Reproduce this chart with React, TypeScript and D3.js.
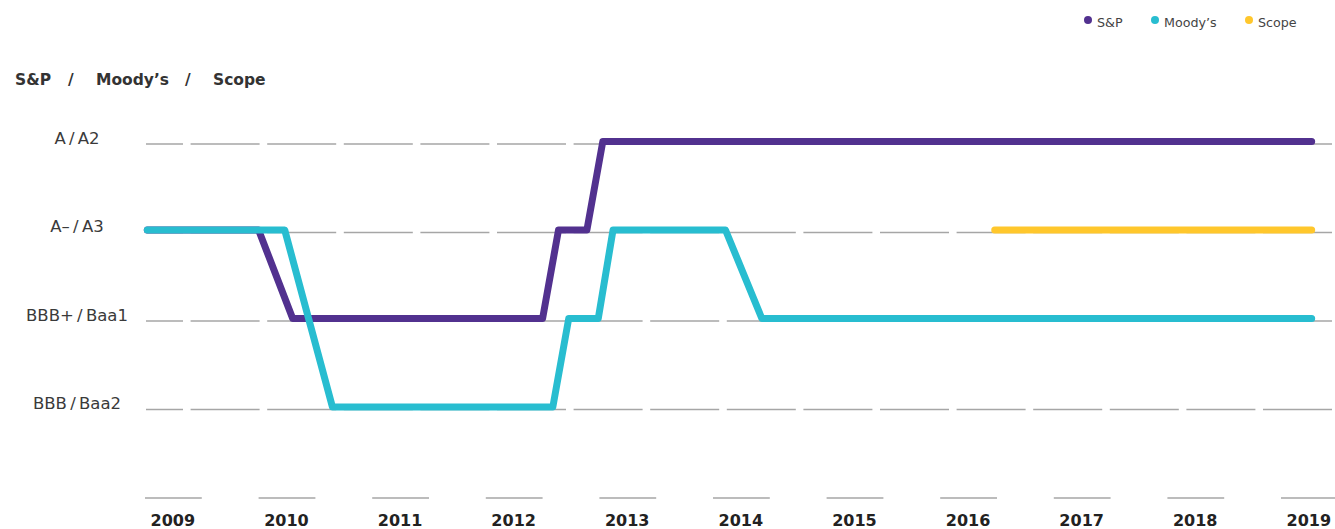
import React, { useEffect, useRef } from "react";
import * as d3 from "d3";

const width = 1335;
const height = 529;

// rating levels: 1 = BBB/Baa2 ... 4 = A/A2 (0 is the baseline row)
const ratingLevels = [1, 2, 3, 4];
const ratingLabels = ["BBB\u2009/\u2009Baa2", "BBB+\u2009/\u2009Baa1", "A\u2013\u2009/\u2009A3", "A\u2009/\u2009A2"];

const years = [2009, 2010, 2011, 2012, 2013, 2014, 2015, 2016, 2017, 2018, 2019];

const spDates = [2009.02, 2010.0, 2010.3, 2012.5, 2012.64, 2012.89, 2013.03, 2019.27];
const spRatings = [3, 3, 2, 2, 3, 3, 4, 4];

const moodysDates = [2009.02, 2010.23, 2010.65, 2012.59, 2012.73, 2012.99, 2013.12, 2014.11, 2014.43, 2019.27];
const moodysRatings = [3, 3, 1, 1, 2, 2, 3, 3, 2, 2];

const scopeDates = [2016.48, 2019.27];
const scopeRatings = [3, 3];

const seriesNames = ["S&P", "Moody\u2019s", "Scope"];
const seriesColors = ["#52318f", "#28bdd0", "#ffc72c"];

const App = () => {
  const ref = useRef<SVGSVGElement>(null);

  useEffect(() => {
    const svg = d3.select(ref.current);
    svg.selectAll("*").remove();

    const x = d3.scaleLinear().domain([2009, 2019]).range([145, 1281]);
    const y = d3.scaleLinear().domain([0, 4]).range([498, 144]);
    const yearW = x(2010) - x(2009);

    // dashed grid rows
    svg
      .append("g")
      .selectAll("line")
      .data(ratingLevels)
      .join("line")
      .attr("x1", x(2009) + 1)
      .attr("x2", width)
      .attr("y1", (d) => y(d))
      .attr("y2", (d) => y(d))
      .attr("stroke", "#a6a6a6")
      .attr("stroke-width", 1.3)
      .attr("stroke-dasharray", "69 7.6")
      .attr("stroke-dashoffset", 32);

    // row labels
    svg
      .append("g")
      .selectAll("text")
      .data(ratingLevels)
      .join("text")
      .attr("x", 77)
      .attr("y", (d) => y(d) - 5)
      .attr("text-anchor", "middle")
      .attr("dominant-baseline", "middle")
      .attr("font-family", "DejaVu Sans, sans-serif")
      .attr("font-size", 16.5)
      .attr("fill", "#3a3a3a")
      .text((d, i) => ratingLabels[i]);

    // year axis: short segments + bold labels
    const xa = svg.append("g");
    xa.selectAll("line")
      .data(years)
      .join("line")
      .attr("x1", (d) => x(d))
      .attr("x2", (d) => x(d) + yearW / 2)
      .attr("y1", y(0))
      .attr("y2", y(0))
      .attr("stroke", "#a6a6a6")
      .attr("stroke-width", 1.3);
    xa.selectAll("text")
      .data(years)
      .join("text")
      .attr("x", (d) => x(d) + yearW * 0.245)
      .attr("y", 521)
      .attr("text-anchor", "middle")
      .attr("dominant-baseline", "middle")
      .attr("font-family", "DejaVu Sans, sans-serif")
      .attr("font-weight", "bold")
      .attr("font-size", 16)
      .attr("fill", "#222")
      .text((d) => d);

    // title
    const title = svg
      .append("text")
      .attr("y", 80)
      .attr("dominant-baseline", "middle")
      .attr("font-family", "DejaVu Sans, sans-serif")
      .attr("font-weight", "bold")
      .attr("font-size", 15.5)
      .attr("fill", "#333");
    [
      ["S&P", 15],
      ["/", 68],
      ["Moody\u2019s", 96],
      ["/", 185],
      ["Scope", 213],
    ].forEach(([t, px]) => title.append("tspan").attr("x", px as number).text(t as string));

    // rating lines
    const line = d3
      .line<[number, number]>()
      .x((d) => x(d[0]))
      .y((d) => y(d[1]) - 2.5);
    const series: [number[], number[]][] = [
      [scopeDates, scopeRatings],
      [spDates, spRatings],
      [moodysDates, moodysRatings],
    ];
    const colorOrder = [seriesColors[2], seriesColors[0], seriesColors[1]];
    svg
      .append("g")
      .selectAll("path")
      .data(series)
      .join("path")
      .attr("d", ([ds, rs]) => line(ds.map((d, i) => [d, rs[i]])))
      .attr("fill", "none")
      .attr("stroke", (d, i) => colorOrder[i])
      .attr("stroke-width", 7)
      .attr("stroke-linejoin", "round")
      .attr("stroke-linecap", "round");

    // legend
    const legendX = [1088, 1155, 1249];
    const lg = svg
      .append("g")
      .selectAll("g")
      .data(seriesNames)
      .join("g")
      .attr("transform", (d, i) => `translate(${legendX[i]},20)`);
    lg.append("circle").attr("r", 4).attr("fill", (d, i) => seriesColors[i]);
    lg.append("text")
      .attr("x", 9)
      .attr("y", 3)
      .attr("dominant-baseline", "middle")
      .attr("font-family", "DejaVu Sans, sans-serif")
      .attr("font-size", 12.7)
      .attr("fill", "#444")
      .text((d) => d);
  }, []);

  return (
    <svg
      ref={ref}
      width={width}
      height={height}
      style={{ position: "absolute", left: 0, top: 0, background: "#fff" }}
    />
  );
};

export default App;
